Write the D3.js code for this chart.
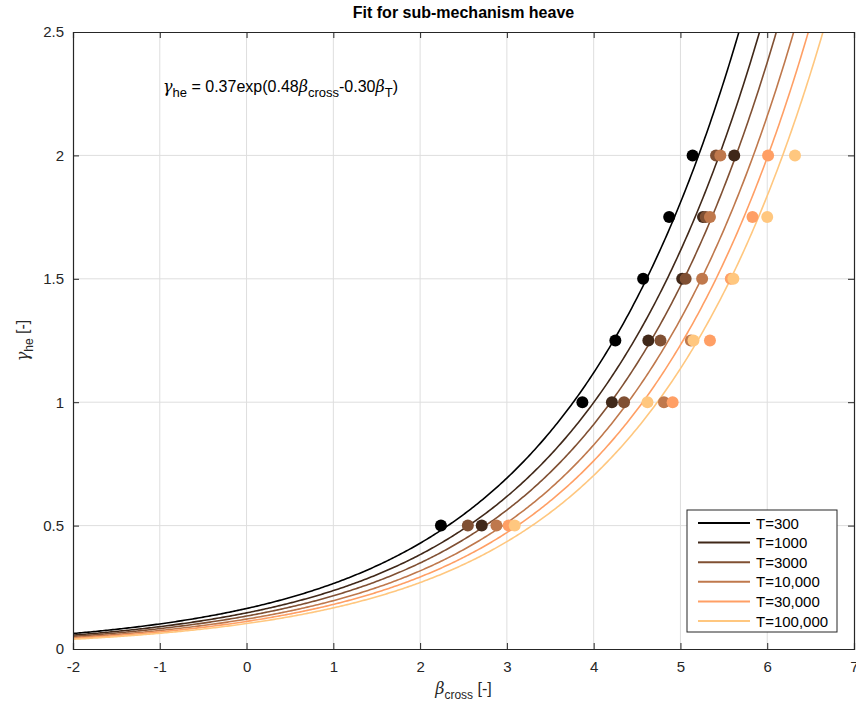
<!DOCTYPE html>
<html>
<head>
<meta charset="utf-8">
<script src="https://cdn.jsdelivr.net/npm/d3@7"></script>
<style>
  body { margin: 0; background: #fff; }
  svg { font-family: "Liberation Sans", Arial, sans-serif; }
</style>
</head>
<body>
<svg></svg>
<script>
const svgWidth = 856;
const svgHeight = 712;

// fit: gamma = a * exp(b * beta_cross - c * beta_T)
const fitA = 0.37, fitB = 0.48, fitC = 0.30;

const seriesNames = ["T=300", "T=1000", "T=3000", "T=10,000", "T=30,000", "T=100,000"];
const betaT = [2.71, 3.09, 3.40, 3.72, 3.99, 4.26];
const colors = ["#000000", "#402819", "#805033", "#bf784c", "#ff9f65", "#ffc77f"];

const gammaLevels = [0.5, 1.0, 1.25, 1.5, 1.75, 2.0];
const pts300    = [2.24, 3.87, 4.25, 4.57, 4.87, 5.14];
const pts1000   = [2.71, 4.21, 4.63, 5.02, 5.26, 5.62];
const pts3000   = [2.55, 4.35, 4.77, 5.06, 5.29, 5.41];
const pts10000  = [2.88, 4.81, 5.12, 5.25, 5.34, 5.46];
const pts30000  = [3.02, 4.91, 5.34, 5.58, 5.83, 6.01];
const pts100000 = [3.09, 4.62, 5.15, 5.61, 6.00, 6.32];
const allPts = [pts300, pts1000, pts3000, pts10000, pts30000, pts100000];

const xTicks = [-2, -1, 0, 1, 2, 3, 4, 5, 6, 7];
const yTicks = [0, 0.5, 1, 1.5, 2, 2.5];

const margin = {left: 73, top: 32, right: 2, bottom: 63};
const w = svgWidth - margin.left - margin.right;
const h = svgHeight - margin.top - margin.bottom;

const svg = d3.select("svg")
  .attr("width", svgWidth)
  .attr("height", svgHeight);

const x = d3.scaleLinear().domain([-2, 7]).range([0, w]);
const y = d3.scaleLinear().domain([0, 2.5]).range([h, 0]);

svg.append("defs").append("clipPath").attr("id", "clip")
  .append("rect").attr("width", w).attr("height", h);

const g = svg.append("g").attr("transform", "translate(" + margin.left + "," + margin.top + ")");

// grid
g.append("g").selectAll("line").data(xTicks.slice(1, -1)).enter().append("line")
  .attr("x1", d => x(d)).attr("x2", d => x(d)).attr("y1", 0).attr("y2", h)
  .attr("stroke", "#dedede").attr("stroke-width", 1);
g.append("g").selectAll("line").data(yTicks.slice(1, -1)).enter().append("line")
  .attr("y1", d => y(d)).attr("y2", d => y(d)).attr("x1", 0).attr("x2", w)
  .attr("stroke", "#dedede").attr("stroke-width", 1);

// fit curves
const plot = g.append("g").attr("clip-path", "url(#clip)");
const xs = d3.range(-2, 7.0001, 0.02);
const line = d3.line().x(d => x(d[0])).y(d => y(d[1]));
betaT.forEach(function(bt, i) {
  plot.append("path")
    .datum(xs.map(v => [v, fitA * Math.exp(fitB * v - fitC * bt)]))
    .attr("d", line)
    .attr("fill", "none")
    .attr("stroke", colors[i])
    .attr("stroke-width", 1.6);
});

// points
allPts.forEach(function(pts, i) {
  plot.append("g").selectAll("circle").data(pts).enter().append("circle")
    .attr("cx", d => x(d))
    .attr("cy", (d, j) => y(gammaLevels[j]))
    .attr("r", 6)
    .attr("fill", colors[i]);
});

// axes
const axisColor = "#262626";
const xAxis = g.append("g").attr("transform", "translate(0," + h + ")")
  .call(d3.axisBottom(x).tickValues(xTicks).tickSize(-6).tickPadding(12).tickFormat(d => String(d)));
const xAxisTop = g.append("g")
  .call(d3.axisTop(x).tickValues(xTicks).tickSize(-6).tickFormat(""));
const yAxis = g.append("g")
  .call(d3.axisLeft(y).tickValues(yTicks).tickSize(-6).tickPadding(9).tickFormat(d => String(d)));
const yAxisRight = g.append("g").attr("transform", "translate(" + w + ",0)")
  .call(d3.axisRight(y).tickValues(yTicks).tickSize(-6).tickFormat(""));
[xAxis, xAxisTop, yAxis, yAxisRight].forEach(function(a) {
  a.select(".domain").attr("stroke", axisColor).attr("stroke-width", 1.2);
  a.selectAll(".tick line").attr("stroke", axisColor);
  a.selectAll("text").attr("fill", axisColor).style("font-size", "15px")
    .style("font-family", "Liberation Sans, Arial, sans-serif");
});

// title
svg.append("text")
  .attr("x", margin.left + w / 2).attr("y", 18)
  .attr("text-anchor", "middle")
  .style("font-size", "16px").style("font-weight", "bold")
  .attr("fill", "#000")
  .text("Fit for sub-mechanism heave");

// x label
const xl = svg.append("text")
  .attr("x", margin.left + w / 2).attr("y", 694)
  .attr("text-anchor", "middle")
  .style("font-size", "16px").attr("fill", axisColor);
xl.append("tspan").style("font-family", "DejaVu Serif, serif").style("font-style", "italic").text("β");
xl.append("tspan").attr("dy", 5).style("font-size", "12px").text("cross");
xl.append("tspan").attr("dy", -5).text(" [-]");

// y label
const yl = svg.append("text")
  .attr("transform", "translate(28," + (margin.top + h / 2) + ") rotate(-90)")
  .attr("text-anchor", "middle")
  .style("font-size", "16px").attr("fill", axisColor);
yl.append("tspan").style("font-family", "DejaVu Serif, serif").style("font-style", "italic").text("γ");
yl.append("tspan").attr("dy", 5).style("font-size", "12px").text("he");
yl.append("tspan").attr("dy", -5).text(" [-]");

// equation
const eq = g.append("text")
  .attr("x", 90).attr("y", 60)
  .style("font-size", "16px").attr("fill", "#000");
eq.append("tspan").style("font-family", "DejaVu Serif, serif").style("font-style", "italic").text("γ");
eq.append("tspan").attr("dy", 5).style("font-size", "13px").text("he");
eq.append("tspan").attr("dy", -5).text(" = " + fitA.toFixed(2) + "exp(" + fitB.toFixed(2));
eq.append("tspan").style("font-family", "DejaVu Serif, serif").style("font-style", "italic").text("β");
eq.append("tspan").attr("dy", 5).style("font-size", "13px").text("cross");
eq.append("tspan").attr("dy", -5).text("-" + fitC.toFixed(2));
eq.append("tspan").style("font-family", "DejaVu Serif, serif").style("font-style", "italic").text("β");
eq.append("tspan").attr("dy", 5).style("font-size", "13px").text("T");
eq.append("tspan").attr("dy", -5).text(")");

// legend
const lg = svg.append("g").attr("transform", "translate(687,510)");
lg.append("rect").attr("width", 150).attr("height", 122)
  .attr("fill", "#fff").attr("stroke", axisColor).attr("stroke-width", 1);
const items = lg.selectAll("g.item").data(seriesNames).enter().append("g")
  .attr("transform", (d, i) => "translate(0," + (13 + i * 19.6) + ")");
items.append("line").attr("x1", 11).attr("x2", 63)
  .attr("stroke", (d, i) => colors[i]).attr("stroke-width", 2);
items.append("text").attr("x", 69).attr("y", 5.5)
  .style("font-size", "15px").attr("fill", "#000").text(d => d);
</script>
</body>
</html>
